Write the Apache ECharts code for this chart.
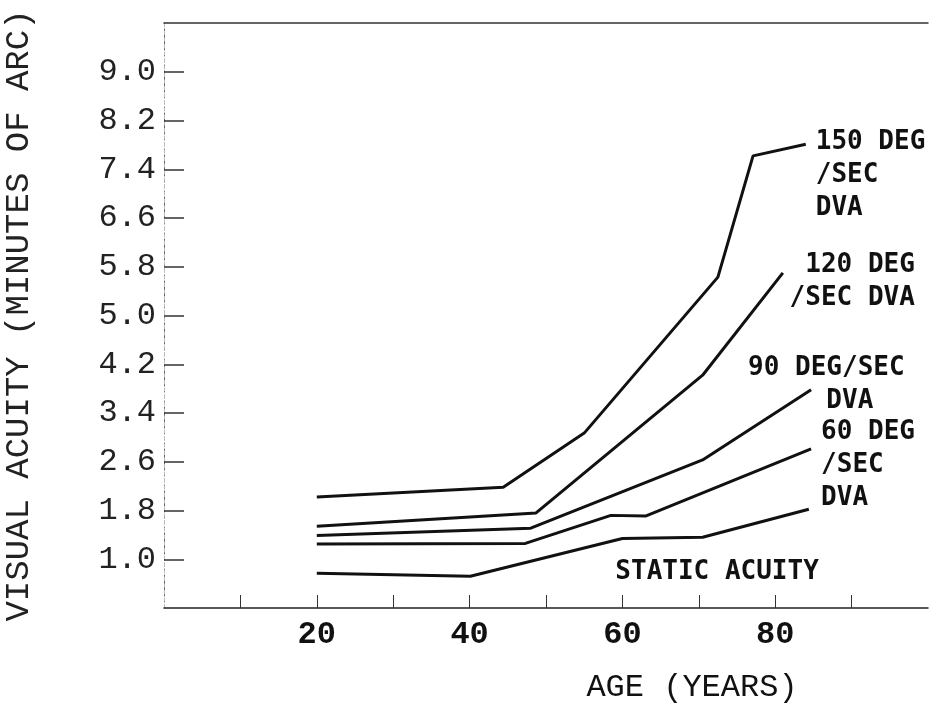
<!DOCTYPE html>
<html>
<head>
<meta charset="utf-8">
<script src="https://cdn.jsdelivr.net/npm/echarts@6/dist/echarts.min.js"></script>
<style>
html,body{margin:0;padding:0;background:#fff;}
#chart{width:933px;height:715px;}
</style>
</head>
<body>
<div id="chart"></div>
<script>
// ---- data ----
const xTickValues = [10, 20, 30, 40, 50, 60, 70, 80, 90];
const xLabelValues = [20, 40, 60, 80];
const yTickValues = [1.0, 1.8, 2.6, 3.4, 4.2, 5.0, 5.8, 6.6, 7.4, 8.2, 9.0];

const staticAges = [20, 40.1, 60.0, 70.5, 84.4];
const staticVals = [0.77, 0.72, 1.34, 1.36, 1.82];

const dva60Ages = [20, 47.3, 58.5, 63.1, 84.7];
const dva60Vals = [1.25, 1.26, 1.72, 1.71, 2.81];

const dva90Ages = [20, 48.0, 70.5, 84.7];
const dva90Vals = [1.39, 1.51, 2.63, 3.78];

const dva120Ages = [20, 48.7, 70.5, 81.0];
const dva120Vals = [1.54, 1.76, 4.02, 5.70];

const dva150Ages = [20, 44.4, 55.0, 72.5, 77.1, 84.0];
const dva150Vals = [2.02, 2.18, 3.07, 5.63, 7.62, 7.81];

const seriesNames = ['STATIC ACUITY', '60 DEG/SEC DVA', '90 DEG/SEC DVA', '120 DEG/SEC DVA', '150 DEG/SEC DVA'];
const labelTexts = ['STATIC ACUITY', '60 DEG\n/SEC\nDVA', '90 DEG/SEC\n     DVA', '120 DEG\n/SEC DVA', '150 DEG\n/SEC\nDVA'];

// ---- chart ----
const pairs = (xs, ys) => xs.map((x, i) => [x, ys[i]]);
const labelFont = 'DejaVu Sans Mono';
function lineSeries(name, xs, ys, text, align, offset) {
  return {
    name: name,
    type: 'line',
    data: pairs(xs, ys),
    symbol: 'none',
    lineStyle: { color: '#111', width: 3 },
    endLabel: {
      show: true,
      formatter: text,
      color: '#111',
      fontFamily: labelFont,
      fontSize: 26,
      fontWeight: 'bold',
      lineHeight: 33,
      align: align,
      offset: offset,
      distance: 8
    },
    silent: true
  };
}

const chart = echarts.init(document.getElementById('chart'));
chart.setOption({
  animation: false,
  backgroundColor: '#ffffff',
  grid: { left: 164, right: 5, top: 23, bottom: 107, outerBoundsMode: 'none', containLabel: false },
  xAxis: [{
    type: 'value', min: 0, max: 100, position: 'bottom',
    axisLine: { show: true, lineStyle: { color: '#222', width: 1.5 } },
    axisTick: { show: true, inside: true, length: 13, customValues: xTickValues, lineStyle: { color: '#333', width: 1 } },
    axisLabel: { customValues: xLabelValues, margin: 11, color: '#111', fontFamily: 'Liberation Mono', fontWeight: 'bold', fontSize: 32 },
    splitLine: { show: false },
    name: 'AGE (YEARS)', nameLocation: 'middle', nameGap: 64,
    nameTextStyle: { color: '#111', fontFamily: 'Liberation Mono', fontSize: 32, padding: [0, 0, 0, 292] }
  }, {
    type: 'value', min: 0, max: 100, position: 'top',
    axisLine: { show: true, lineStyle: { color: '#333', width: 1.5 } },
    axisTick: { show: false }, axisLabel: { show: false }, splitLine: { show: false }
  }],
  yAxis: [{
    type: 'value', min: 0.2, max: 9.8, position: 'left',
    axisLine: { show: true, lineStyle: { color: '#666', width: 1, type: [3, 3] } },
    axisTick: { show: true, inside: true, length: 20, customValues: yTickValues, lineStyle: { color: '#333', width: 1.5 } },
    axisLabel: { customValues: yTickValues, margin: 8, color: '#222', fontFamily: 'Liberation Mono', fontSize: 32,
      formatter: v => v.toFixed(1) },
    splitLine: { show: false },
    name: 'VISUAL ACUITY (MINUTES OF ARC)', nameLocation: 'middle', nameRotate: 90, nameGap: 128,
    nameTextStyle: { color: '#222', fontFamily: 'Liberation Mono', fontSize: 34 }
  }, {
    type: 'value', min: 0.2, max: 9.8, position: 'right',
    axisLine: { show: true, lineStyle: { color: '#bbb', width: 1, type: [3, 4] } },
    axisTick: { show: false }, axisLabel: { show: false }, splitLine: { show: false }
  }],
  series: [
    lineSeries(seriesNames[0], staticAges, staticVals, labelTexts[0], 'right', [2, 63]),
    lineSeries(seriesNames[1], dva60Ages, dva60Vals, labelTexts[1], 'left', [2, 16]),
    lineSeries(seriesNames[2], dva90Ages, dva90Vals, labelTexts[2], 'left', [-71, -5]),
    lineSeries(seriesNames[3], dva120Ages, dva120Vals, labelTexts[3], 'right', [124, 9]),
    lineSeries(seriesNames[4], dva150Ages, dva150Vals, labelTexts[4], 'left', [2, 31])
  ]
});
</script>
</body>
</html>
